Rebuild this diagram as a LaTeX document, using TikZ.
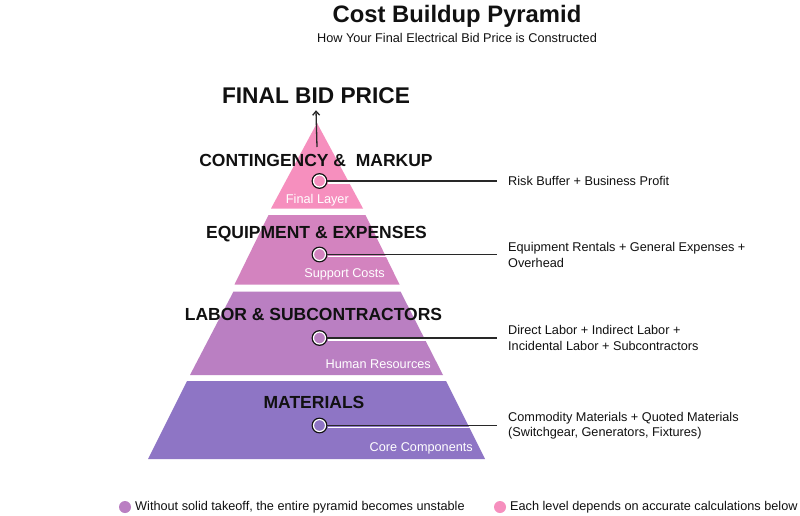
\documentclass[tikz,border=0pt]{standalone}
\usepackage{fontspec}
\setmainfont{Liberation Sans}
\usetikzlibrary{arrows.meta}
\definecolor{toppink}{RGB}{246, 143, 190}
\definecolor{mauve}{RGB}{211, 131, 191}
\definecolor{orchid}{RGB}{186, 127, 194}
\definecolor{lavender}{RGB}{142, 117, 197}
\definecolor{ink}{RGB}{17, 17, 17}
\definecolor{wire}{RGB}{40, 40, 40}

\begin{document}
\begin{tikzpicture}[
        x=1pt, y=-1pt,
        heading/.style={font=\fontsize{17.5}{20}\selectfont\bfseries, text=ink, inner sep=0pt},
        sublabel/.style={font=\fontsize{12.7}{15}\selectfont, text=white, anchor=east, inner sep=0pt},
        note/.style={font=\fontsize{12.7}{15.5}\selectfont, text=ink, anchor=west, align=left, inner sep=0pt},
        marker/.style={circle, minimum size=12pt, inner sep=0pt, draw=white, line width=1.2pt,
            preaction={draw=ink, line width=3.8pt}},
        link/.style={draw=wire, line width=1.3pt},
        halo/.style={draw=white, line width=1.2pt},
        dot/.style={circle, minimum size=12pt, inner sep=0pt}
    ]

    \path[use as bounding box, fill=white] (0,0) rectangle (800,515);

    % title
    \node[font=\fontsize{23.8}{28}\selectfont\bfseries, text=ink, inner sep=0pt] (title) at (457,16) {Cost Buildup Pyramid};
    \node[font=\fontsize{12.7}{15}\selectfont, text=ink, inner sep=0pt] (subtitle) at (457,38) {How Your Final Electrical Bid Price is Constructed};

    % pyramid layers
    \fill[toppink] (317,123) -- (363,208.5) -- (271,208.5) -- cycle;
    \fill[mauve] (268.5,215) -- (365.5,215) -- (399.5,284.5) -- (234.5,284.5) -- cycle;
    \fill[orchid] (233.5,291.5) -- (400.5,291.5) -- (443,375) -- (190,375) -- cycle;
    \fill[lavender] (187,381) -- (446,381) -- (485,459) -- (148,459) -- cycle;

    % top of the pyramid
    \node[font=\fontsize{22.7}{26}\selectfont\bfseries, text=ink, inner sep=0pt] (bid) at (316,96) {FINAL BID PRICE};
    \coordinate (peak) at (317,147);
    \draw[link, -{Straight Barb[length=4pt,width=7pt]}] (peak) -- ([yshift=-6pt]bid.south);

    % layer titles
    \node[heading] (markup) at (316,160) {CONTINGENCY \&\ \ MARKUP};
    \node[heading] (equip) at (316.5,234) {EQUIPMENT \& EXPENSES};
    \node[heading] (labor) at (313.5,314) {LABOR \& SUBCONTRACTORS};
    \node[heading] (mat) at (314,402) {MATERIALS};

    \node[sublabel] (finallayer) at (349,200) {Final Layer};
    \node[sublabel] (support) at (385,274) {Support Costs};
    \node[sublabel] (human) at (431,364) {Human Resources};
    \node[sublabel] (core) at (473,448) {Core Components};

    % markers
    \node[marker, fill=toppink] (m1) at (319.5,181) {};
    \node[marker, fill=mauve] (m2) at (319.5,254.5) {};
    \node[marker, fill=orchid] (m3) at (319.5,338) {};
    \node[marker, fill=lavender] (m4) at (319.5,425.5) {};

    % notes on the right
    \node[note] (n1) at (508,181) {Risk Buffer + Business Profit};
    \node[note] (n2) at (508,255) {Equipment Rentals + General Expenses +\\Overhead};
    \node[note] (n3) at (508,338) {Direct Labor + Indirect Labor +\\Incidental Labor + Subcontractors};
    \node[note] (n4) at (508,425.5) {Commodity Materials + Quoted Materials\\(Switchgear, Generators, Fixtures)};

    \draw[halo] ([xshift=2pt,yshift=-2pt]m1.east) -- ([xshift=-11pt,yshift=-2pt]m1.east -| n1.west);
    \draw[halo] ([xshift=2pt,yshift=-2pt]m2.east) -- ([xshift=-11pt,yshift=-2pt]m2.east -| n2.west);
    \draw[halo] ([xshift=2pt,yshift=-2pt]m3.east) -- ([xshift=-11pt,yshift=-2pt]m3.east -| n3.west);
    \draw[halo] ([xshift=2pt,yshift=-2pt]m4.east) -- ([xshift=-11pt,yshift=-2pt]m4.east -| n4.west);
    \draw[link] (m1.east) -- ([xshift=-11pt]m1.east -| n1.west);
    \draw[link] (m2.east) -- ([xshift=-11pt]m2.east -| n2.west);
    \draw[link] (m3.east) -- ([xshift=-11pt]m3.east -| n3.west);
    \draw[link] (m4.east) -- ([xshift=-11pt]m4.east -| n4.west);

    % legend
    \node[dot, fill=orchid] (d1) at (125,507) {};
    \node[note, anchor=west] (l1) at (135,507) {Without solid takeoff, the entire pyramid becomes unstable};
    \node[dot, fill=toppink] (d2) at (500,507) {};
    \node[note, anchor=west] (l2) at (510,507) {Each level depends on accurate calculations below};

\end{tikzpicture}
\end{document}
